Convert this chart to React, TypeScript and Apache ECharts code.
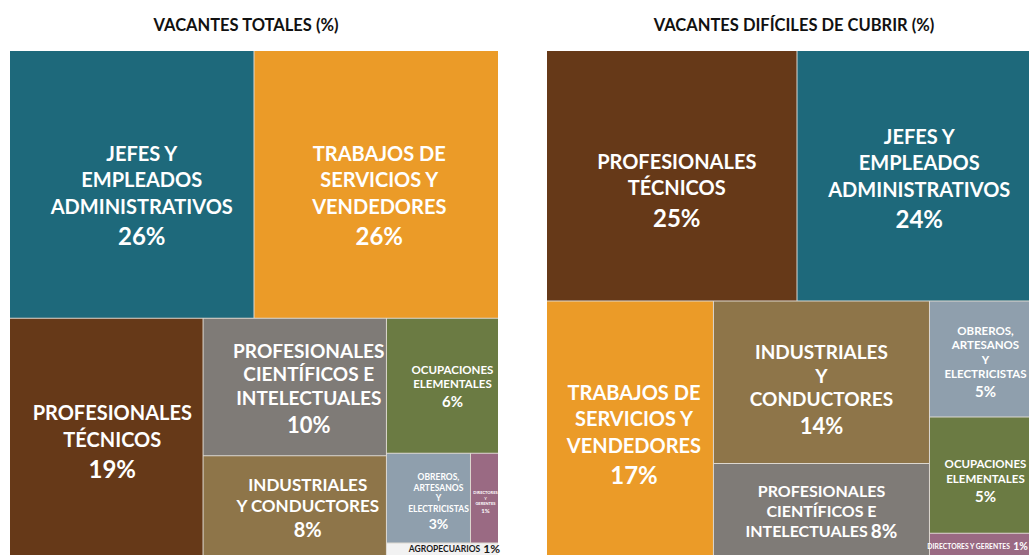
import React, { useEffect, useRef } from 'react';
import * as echarts from 'echarts';

const FONT = 'Lato, "Open Sans", "Noto Sans", sans-serif';

const titles = ['VACANTES TOTALES (%)', 'VACANTES DIFÍCILES DE CUBRIR (%)'];

// ---- Left treemap: vacantes totales (%) ----
// (equal values: the later item is laid out first)
const leftNames = [
  'TRABAJOS DE SERVICIOS Y VENDEDORES',
  'JEFES Y EMPLEADOS ADMINISTRATIVOS',
  'PROFESIONALES TÉCNICOS',
  'PROFESIONALES CIENTÍFICOS E INTELECTUALES',
  'INDUSTRIALES Y CONDUCTORES',
  'OCUPACIONES ELEMENTALES',
  'OBREROS, ARTESANOS Y ELECTRICISTAS',
  'AGROPECUARIOS',
  'DIRECTORES Y GERENTES',
];
const leftValues = [26, 26, 19, 10, 8, 6, 3, 1, 1];
const leftLines = [
  'TRABAJOS DE\nSERVICIOS Y\nVENDEDORES',
  'JEFES Y\nEMPLEADOS\nADMINISTRATIVOS',
  'PROFESIONALES\nTÉCNICOS',
  'PROFESIONALES\nCIENTÍFICOS E\nINTELECTUALES',
  'INDUSTRIALES\nY CONDUCTORES',
  'OCUPACIONES\nELEMENTALES',
  'OBREROS,\nARTESANOS\nY\nELECTRICISTAS',
  'AGROPECUARIOS',
  'DIRECTORES\nY\nGERENTES',
];

// ---- Right treemap: vacantes difíciles de cubrir (%) ----
const rightNames = [
  'PROFESIONALES TÉCNICOS',
  'JEFES Y EMPLEADOS ADMINISTRATIVOS',
  'TRABAJOS DE SERVICIOS Y VENDEDORES',
  'INDUSTRIALES Y CONDUCTORES',
  'PROFESIONALES CIENTÍFICOS E INTELECTUALES',
  'OCUPACIONES ELEMENTALES',
  'OBREROS, ARTESANOS Y ELECTRICISTAS',
  'DIRECTORES Y GERENTES',
];
const rightValues = [25, 24, 17, 14, 8, 5, 5, 1];
const rightLines = [
  'PROFESIONALES\nTÉCNICOS',
  'JEFES Y\nEMPLEADOS\nADMINISTRATIVOS',
  'TRABAJOS DE\nSERVICIOS Y\nVENDEDORES',
  'INDUSTRIALES\nY\nCONDUCTORES',
  'PROFESIONALES\nCIENTÍFICOS E\nINTELECTUALES',
  'OCUPACIONES\nELEMENTALES',
  'OBREROS,\nARTESANOS\nY\nELECTRICISTAS',
  'DIRECTORES Y GERENTES',
];

// ---- styles ----
const COLORS: Record<string, string> = {
  'JEFES Y EMPLEADOS ADMINISTRATIVOS': '#1e697b',
  'TRABAJOS DE SERVICIOS Y VENDEDORES': '#eb9b28',
  'PROFESIONALES TÉCNICOS': '#663918',
  'PROFESIONALES CIENTÍFICOS E INTELECTUALES': '#7f7b77',
  'INDUSTRIALES Y CONDUCTORES': '#8e7549',
  'OCUPACIONES ELEMENTALES': '#6b7b43',
  'OBREROS, ARTESANOS Y ELECTRICISTAS': '#8f9fad',
  'DIRECTORES Y GERENTES': '#9a6a83',
  'AGROPECUARIOS': '#f2f2f2',
};

type LS = {
  ns: number; nl: number; vs: number; vl: number;
  inline?: boolean; dark?: boolean; top?: boolean; dx?: number; dy?: number;
};
const leftStyles: LS[] = [
  { ns: 20, nl: 26.5, vs: 24, vl: 33, dx: 3, dy: 11.5 },
  { ns: 20, nl: 26.5, vs: 24, vl: 33, dx: 10, dy: 11.5 },
  { ns: 20, nl: 27, vs: 24, vl: 33, dx: 6, dy: 0 },
  { ns: 19, nl: 23.5, vs: 22, vl: 30, dx: 14, dy: 2 },
  { ns: 17, nl: 21, vs: 20, vl: 26, dx: 13, dy: -3 },
  { ns: 11.5, nl: 14, vs: 15, vl: 20, dx: 10, dy: 1 },
  { ns: 8.5, nl: 10.7, vs: 14, vl: 18, dx: 10, dy: 4 },
  { ns: 8.5, nl: 10, vs: 12, vl: 10, inline: true, dark: true, top: true, dx: 12, dy: -1 },
  { ns: 4, nl: 5.5, vs: 6, vl: 8, dx: 1, dy: 4 },
];
const rightStyles: LS[] = [
  { ns: 20, nl: 26.5, vs: 24, vl: 33, dx: 5, dy: 15 },
  { ns: 20, nl: 26.5, vs: 24, vl: 33, dx: 2, dy: 3 },
  { ns: 20, nl: 26.5, vs: 24, vl: 33, dx: 4, dy: 6 },
  { ns: 19, nl: 23.5, vs: 22, vl: 30, dx: 0, dy: 8 },
  { ns: 16, nl: 20, vs: 19, vl: 20, inline: true, dx: 0, dy: 0 },
  { ns: 11.5, nl: 15, vs: 15, vl: 20, dx: 2, dy: 6 },
  { ns: 11.5, nl: 14.5, vs: 15, vl: 20, dx: 2, dy: 3 },
  { ns: 6.8, nl: 12, vs: 10.5, vl: 12, inline: true, dx: -6, dy: 1 },
];

// label text -> layout info
const labelInfo = new Map<string, { h: number; top: boolean; dx: number; dy: number }>();

function buildData(names: string[], values: number[], lines: string[], styles: LS[]) {
  return names.map((name, i) => {
    const s = styles[i];
    const color = s.dark ? '#1a1a1a' : '#ffffff';
    const txt = '{n|' + lines[i] + '}' + (s.inline ? ' ' : '\n') + '{v|' + values[i] + '%}';
    const nLines = lines[i].split('\n').length;
    const h = s.inline ? (nLines - 1) * s.nl + Math.max(s.nl, s.vl) : nLines * s.nl + s.vl;
    labelInfo.set(txt, { h, top: !!s.top, dx: s.dx || 0, dy: s.dy || 0 });
    return {
      name,
      value: values[i],
      itemStyle: { color: COLORS[name] },
      label: {
        show: true,
        position: 'inside',
        padding: 0,
        distance: 0,
        align: 'center',
        verticalAlign: 'middle',
        overflow: 'none',
        formatter: () => txt,
        rich: {
          n: { fontSize: s.ns, lineHeight: s.nl, color, fontWeight: 'bold', fontFamily: FONT, align: 'center' },
          v: { fontSize: s.vs, lineHeight: s.vl, color, fontWeight: 'bold', fontFamily: FONT, align: 'center' },
        },
      },
    };
  });
}

function centerLabel(params: any) {
  const info = labelInfo.get(params.text);
  if (!info || !params.rect) return {};
  if (info.top) return { dx: info.dx, dy: info.dy };
  return { dx: info.dx, dy: Math.max((params.rect.height - info.h) / 2, 0) + info.dy };
}

function treemapSeries(data: any[], box: any, squareRatio: number) {
  return {
    type: 'treemap',
    ...box,
    roam: false,
    nodeClick: false,
    squareRatio,
    sort: 'desc',
    visibleMin: 0,
    breadcrumb: { show: false },
    itemStyle: { borderWidth: 0, gapWidth: 1, borderColor: '#ddd8d0' },
    upperLabel: { show: false },
    label: { show: true, fontFamily: FONT, padding: 0, overflow: 'none' },
    labelLayout: centerLabel,
    emphasis: { disabled: true },
    silent: true,
    data,
  };
}

export default function App() {
  const ref = useRef<HTMLDivElement>(null);
  useEffect(() => {
    if (!ref.current) return;
    const chart = echarts.init(ref.current, undefined, { renderer: 'svg' });
    chart.setOption({
      animation: false,
      backgroundColor: '#ffffff',
      graphic: [
        {
          type: 'text', x: 246, y: 25,
          style: { text: titles[0], align: 'center', verticalAlign: 'middle', fill: '#111111', fontSize: 16.5, fontWeight: 'bold', fontFamily: FONT },
        },
        {
          type: 'text', x: 794, y: 25,
          style: { text: titles[1], align: 'center', verticalAlign: 'middle', fill: '#111111', fontSize: 16.5, fontWeight: 'bold', fontFamily: FONT },
        },
      ],
      series: [
        treemapSeries(buildData(leftNames, leftValues, leftLines, leftStyles), { left: 10, top: 51, width: 488, height: 514 }, 1.618),
        treemapSeries(buildData(rightNames, rightValues, rightLines, rightStyles), { left: 547, top: 51, width: 490, height: 505 }, 1.2),
      ],
    });
    return () => chart.dispose();
  }, []);
  return (
    <div
      ref={ref}
      style={{ position: 'absolute', left: 0, top: 0, width: 1029, height: 555, overflow: 'hidden' }}
    />
  );
}
